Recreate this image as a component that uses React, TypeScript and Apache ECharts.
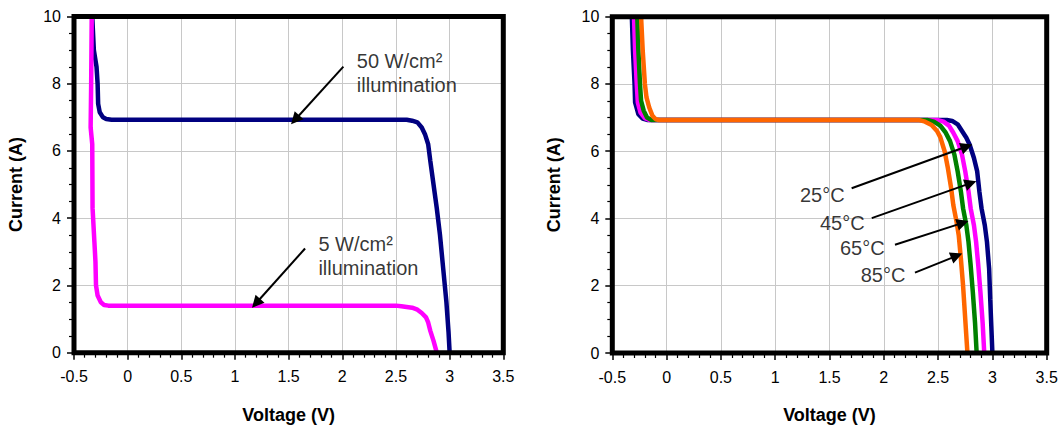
import React, { useEffect, useRef } from "react";
import * as echarts from "echarts";

// Left chart: illumination curves [V, A]
const illum50: number[][] = [
  [-0.33, 10], [-0.315, 9.0], [-0.29, 8.5], [-0.28, 8.0], [-0.275, 7.4], [-0.26, 7.15],
  [-0.23, 7.0], [-0.2, 6.95], [-0.15, 6.93], [2.6, 6.93], [2.65, 6.9], [2.7, 6.85],
  [2.74, 6.7], [2.77, 6.5], [2.8, 6.2], [2.82, 5.7], [2.85, 5.0], [2.88, 4.3],
  [2.91, 3.5], [2.94, 2.5], [2.97, 1.5], [2.99, 0.6], [3.0, 0],
];
const illum5: number[][] = [
  [-0.335, 10], [-0.34, 8], [-0.345, 6.7], [-0.33, 6.2], [-0.327, 4.3], [-0.31, 3.3],
  [-0.3, 2.7], [-0.295, 2.0], [-0.28, 1.7], [-0.25, 1.5], [-0.22, 1.42], [-0.18, 1.4],
  [2.5, 1.4], [2.55, 1.38], [2.6, 1.36], [2.65, 1.34], [2.7, 1.28], [2.74, 1.18],
  [2.78, 1.05], [2.8, 0.9], [2.82, 0.65], [2.85, 0.35], [2.88, 0],
];

// Right chart: temperature curves [V, A]
const temp25: number[][] = [
  [-0.32, 10], [-0.31, 9.0], [-0.295, 8.0], [-0.29, 7.45], [-0.26, 7.1], [-0.22, 6.97],
  [-0.18, 6.93], [2.58, 6.93], [2.63, 6.9], [2.68, 6.8], [2.72, 6.6], [2.76, 6.4],
  [2.79, 6.2], [2.83, 5.8], [2.86, 5.4], [2.88, 4.8], [2.9, 4.3], [2.93, 3.8],
  [2.95, 3.3], [2.97, 2.5], [2.98, 1.6], [2.99, 0.8], [3.0, 0],
];
const temp45: number[][] = [
  [-0.3, 10], [-0.29, 9.0], [-0.275, 8.0], [-0.265, 7.45], [-0.24, 7.15], [-0.2, 6.98],
  [-0.16, 6.93], [2.49, 6.93], [2.55, 6.88], [2.6, 6.76], [2.64, 6.55], [2.68, 6.3],
  [2.72, 5.9], [2.75, 5.4], [2.78, 4.8], [2.8, 4.3], [2.83, 3.8], [2.85, 3.3],
  [2.87, 2.6], [2.89, 1.8], [2.91, 0.9], [2.925, 0],
];
const temp65: number[][] = [
  [-0.27, 10], [-0.26, 9.0], [-0.245, 8.0], [-0.235, 7.5], [-0.21, 7.2], [-0.18, 7.0],
  [-0.14, 6.93], [2.4, 6.93], [2.46, 6.88], [2.52, 6.76], [2.57, 6.55], [2.61, 6.3],
  [2.65, 5.9], [2.68, 5.4], [2.71, 4.8], [2.73, 4.3], [2.76, 3.8], [2.78, 3.3],
  [2.8, 2.6], [2.82, 1.8], [2.84, 0.9], [2.855, 0],
];
const temp85: number[][] = [
  [-0.235, 10], [-0.22, 9.0], [-0.2, 8.0], [-0.185, 7.6], [-0.16, 7.3], [-0.13, 7.05],
  [-0.1, 6.95], [-0.07, 6.93], [2.32, 6.93], [2.38, 6.88], [2.44, 6.78], [2.49, 6.6],
  [2.52, 6.42], [2.56, 6.0], [2.59, 5.5], [2.62, 4.9], [2.64, 4.4], [2.67, 3.9],
  [2.69, 3.5], [2.71, 2.8], [2.73, 2.0], [2.75, 1.0], [2.77, 0],
];

// Annotations (data coordinates)
const leftLabels = [
  { name: "50 W/cm²\nillumination", value: [2.135, 8.33] },
  { name: "5 W/cm²\nillumination", value: [1.777, 2.88] },
];
const leftArrows = [
  [[2.01, 8.51], [1.56, 6.93]],
  [[1.653, 3.1], [1.196, 1.47]],
];
const rightLabels = [
  { name: "25°C", value: [1.228, 4.7] },
  { name: "45°C", value: [1.412, 3.88] },
  { name: "65°C", value: [1.596, 3.12] },
  { name: "85°C", value: [1.787, 2.33] },
];
const rightArrows = [
  [[1.704, 4.9], [2.763, 6.14]],
  [[1.889, 4.01], [2.8, 5.05]],
  [[2.103, 3.22], [2.727, 3.87]],
  [[2.287, 2.39], [2.671, 2.89]],
];

const FONT = "'Liberation Sans', Arial, sans-serif";

function xAxisOpt(gridIndex: number) {
  return {
    type: "value" as const,
    gridIndex,
    min: -0.5,
    max: 3.5,
    interval: 0.5,
    name: "Voltage (V)",
    nameLocation: "middle" as const,
    nameGap: 53,
    nameTextStyle: { fontFamily: FONT, fontWeight: "bold" as const, fontSize: 18, color: "#000" },
    axisLine: { show: false, onZero: false },
    axisTick: { show: true, length: 7, lineStyle: { color: "#000", width: 1.5 } },
    minorTick: { show: true, splitNumber: 5, length: 5, lineStyle: { color: "#000", width: 1.2 } },
    axisLabel: { fontFamily: FONT, fontSize: 16, color: "#000", margin: 16 },
    splitLine: { show: true, lineStyle: { color: "#c8c8c8", width: 1 } },
  };
}
function yAxisOpt(gridIndex: number, labelMargin: number) {
  return {
    type: "value" as const,
    gridIndex,
    min: 0,
    max: 10,
    interval: 2,
    name: "Current (A)",
    nameLocation: "middle" as const,
    nameGap: 49,
    nameTextStyle: { fontFamily: FONT, fontWeight: "bold" as const, fontSize: 18, color: "#000" },
    axisLine: { show: false, onZero: false },
    axisTick: { show: true, length: 7, lineStyle: { color: "#000", width: 1.5 } },
    minorTick: { show: true, splitNumber: 4, length: 5, lineStyle: { color: "#000", width: 1.2 } },
    axisLabel: { fontFamily: FONT, fontSize: 16, color: "#000", margin: labelMargin },
    splitLine: { show: true, lineStyle: { color: "#c8c8c8", width: 1 } },
  };
}

function curve(data: number[][], color: string, idx: number) {
  return {
    type: "line" as const,
    xAxisIndex: idx,
    yAxisIndex: idx,
    data,
    showSymbol: false,
    symbol: "none",
    lineStyle: { color, width: 4.5 },
    z: 3,
    silent: true,
  };
}
function labels(data: { name: string; value: number[] }[], idx: number, lineHeight: number) {
  return {
    type: "scatter" as const,
    xAxisIndex: idx,
    yAxisIndex: idx,
    symbolSize: 0,
    silent: true,
    z: 5,
    data,
    label: {
      show: true,
      position: "right" as const,
      distance: 0,
      formatter: (p: any) => p.name,
      fontFamily: FONT,
      fontSize: 20,
      lineHeight,
      color: "#000",
      align: "left" as const,
    },
  };
}
function arrows(data: number[][][], idx: number) {
  return {
    type: "lines" as const,
    coordinateSystem: "cartesian2d",
    xAxisIndex: idx,
    yAxisIndex: idx,
    symbol: ["none", "triangle"],
    symbolSize: 12,
    silent: true,
    z: 6,
    lineStyle: { color: "#000", width: 2, opacity: 1 },
    data: data.map((c) => ({ coords: c })),
  };
}

export default function App() {
  const ref = useRef<HTMLDivElement>(null);
  useEffect(() => {
    document.body.style.margin = "0";
    if (!ref.current) return;
    const chart = echarts.init(ref.current, undefined, { renderer: "svg" });
    chart.setOption({
      animation: false,
      backgroundColor: "#fff",
      grid: [
        { left: 74, top: 16.5, width: 429.3, height: 336.2, show: true, borderColor: "#000", borderWidth: 5, backgroundColor: "transparent", z: 4 },
        { left: 612.3, top: 16.7, width: 434.4, height: 336.6, show: true, borderColor: "#000", borderWidth: 5, backgroundColor: "transparent", z: 4 },
      ],
      xAxis: [xAxisOpt(0), xAxisOpt(1)],
      yAxis: [yAxisOpt(0, 13), yAxisOpt(1, 13)],
      series: [
        curve(illum50, "#000080", 0),
        curve(illum5, "#ff00ff", 0),
        labels(leftLabels, 0, 24),
        arrows(leftArrows, 0),
        curve(temp25, "#000080", 1),
        curve(temp45, "#ff00ff", 1),
        curve(temp65, "#008000", 1),
        curve(temp85, "#ff6600", 1),
        labels(rightLabels, 1, 24),
        arrows(rightArrows, 1),
      ],
    });
    return () => chart.dispose();
  }, []);
  return <div ref={ref} style={{ width: 1063, height: 429 }} />;
}
